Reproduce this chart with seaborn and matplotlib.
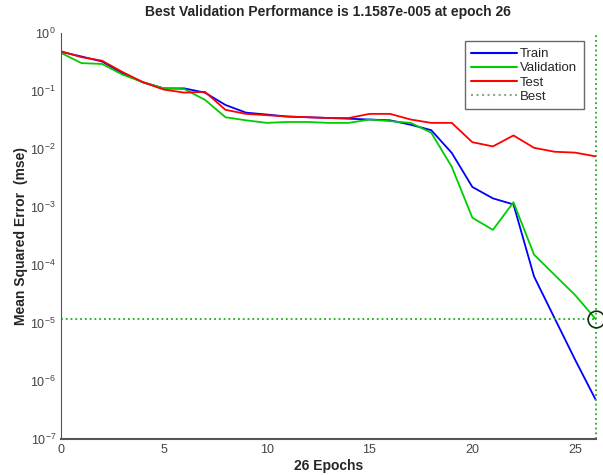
import matplotlib as mpl
mpl.use('agg')
import matplotlib.pyplot as plt
import seaborn as sns
import pandas as pd
import numpy as np

# values
epochs = list(range(27))
train = [0.47, 0.39, 0.32, 0.20, 0.14, 0.11, 0.11, 0.093, 0.057, 0.042,
         0.039, 0.036, 0.035, 0.034, 0.033, 0.032, 0.031, 0.026, 0.021, 0.0085,
         0.0022, 0.0014, 0.0011, 6.3e-5, 1.2e-5, 2.3e-6, 4.7e-7]
validation = [0.45, 0.30, 0.29, 0.19, 0.14, 0.11, 0.107, 0.07, 0.035, 0.031,
              0.028, 0.029, 0.029, 0.028, 0.028, 0.032, 0.030, 0.028, 0.019, 0.0049,
              6.5e-4, 4.0e-4, 1.2e-3, 1.5e-4, 6.7e-5, 3.0e-5, 1.1587e-5]
test = [0.48, 0.38, 0.33, 0.21, 0.14, 0.105, 0.093, 0.096, 0.047, 0.040,
        0.038, 0.036, 0.035, 0.034, 0.034, 0.040, 0.040, 0.032, 0.028, 0.028,
        0.013, 0.011, 0.017, 0.0104, 0.0089, 0.0086, 0.0074]
best_epoch = 26
best_perf = 1.1587e-5

series_names = ['Train', 'Validation', 'Test']
colors = {'Train': '#0000ff', 'Validation': '#00cc00', 'Test': '#ff0000'}

df = pd.DataFrame({'epoch': epochs, 'Train': train, 'Validation': validation, 'Test': test})
df = df.melt(id_vars='epoch', value_vars=series_names, var_name='set', value_name='mse')

sns.set_style('white')
plt.rcParams['font.family'] = ['Liberation Sans', 'DejaVu Sans']

fig = plt.figure(figsize=(6.03, 4.75), dpi=100)
ax = fig.add_axes([0.101, 0.076, 0.887, 0.855])

sns.lineplot(data=df, x='epoch', y='mse', hue='set', palette=colors,
             hue_order=series_names, linewidth=1.3, ax=ax, legend=False)

ax.axhline(best_perf, color='#22aa22', linestyle=':', linewidth=1.3)
ax.axvline(best_epoch, color='#22aa22', linestyle=':', linewidth=1.3, clip_on=False)
ax.plot([best_epoch], [best_perf], 'o', markersize=12, markerfacecolor='none',
        markeredgecolor='#113311', markeredgewidth=1.2, clip_on=False, zorder=5)

ax.set_yscale('log')
ax.set_ylim(1e-7, 1)
ax.set_xlim(0, 26)
ax.set_xticks([0, 5, 10, 15, 20, 25])
ax.set_yticks([10.0 ** k for k in range(-7, 1)])
ax.yaxis.set_minor_locator(mpl.ticker.LogLocator(base=10, subs=np.arange(2, 10)))
ax.tick_params(axis='both', which='both', direction='in', colors='#555555', labelsize=9)
ax.tick_params(axis='both', which='major', length=4)
ax.tick_params(axis='y', which='minor', length=2)
for lab in ax.get_xticklabels() + ax.get_yticklabels():
    lab.set_color('#444444')

sns.despine(ax=ax)
ax.spines['left'].set_color('#555555')
ax.spines['bottom'].set_color('#555555')
ax.spines['bottom'].set_linewidth(1.5)

ax.set_title('Best Validation Performance is 1.1587e-005 at epoch 26',
             fontsize=10, fontweight='bold', pad=12)
ax.set_xlabel('26 Epochs', fontsize=10, fontweight='bold', labelpad=2)
ax.set_ylabel('Mean Squared Error  (mse)', fontsize=10, fontweight='bold', labelpad=2)

handles = [mpl.lines.Line2D([], [], color=colors[n], linewidth=1.5) for n in series_names]
handles.append(mpl.lines.Line2D([], [], color='#88aa88', linestyle=':', linewidth=1.5))
leg = ax.legend(handles, series_names + ['Best'], loc='upper right',
                bbox_to_anchor=(0.99, 0.995), fontsize=9.5, frameon=True,
                fancybox=False, handlelength=3.5, handletextpad=0.2,
                labelspacing=0.15, borderpad=0.5)
leg.get_frame().set_edgecolor('#444444')
leg.get_frame().set_linewidth(1.0)

fig.savefig('out.png', dpi=100)
